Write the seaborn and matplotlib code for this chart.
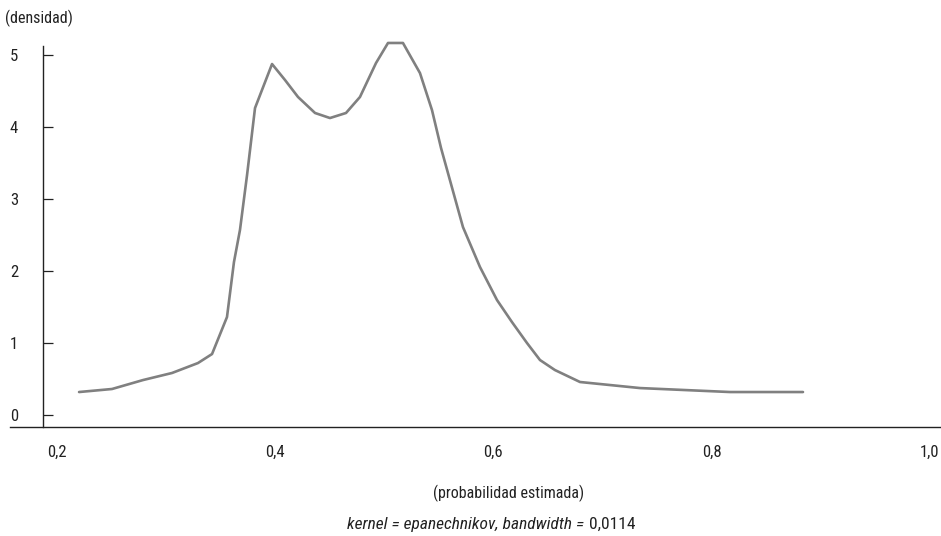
import pandas as pd
import matplotlib
matplotlib.use("Agg")
import matplotlib.pyplot as plt
import seaborn as sns

# estimated probability grid and kernel density
prob = [0.2202, 0.2504, 0.2788, 0.3054, 0.3292, 0.3421, 0.3558, 0.3622, 0.3677,
        0.3742, 0.3815, 0.3971, 0.4090, 0.4209, 0.4365, 0.4502, 0.4649, 0.4777,
        0.4924, 0.5034, 0.5171, 0.5327, 0.5437, 0.5520, 0.5721, 0.5877, 0.6033,
        0.6170, 0.6308, 0.6427, 0.6564, 0.6794, 0.7069, 0.7344, 0.8169, 0.8838]
density = [0.319, 0.361, 0.485, 0.583, 0.721, 0.846, 1.359, 2.122, 2.566,
           3.329, 4.258, 4.868, 4.646, 4.411, 4.189, 4.119, 4.189, 4.411,
           4.882, 5.160, 5.160, 4.743, 4.230, 3.703, 2.607, 2.053, 1.595,
           1.290, 0.999, 0.763, 0.624, 0.458, 0.416, 0.374, 0.319, 0.319]

x_ticks = [0.2, 0.4, 0.6, 0.8, 1.0]
x_tick_labels = ["0,2", "0,4", "0,6", "0,8", "1,0"]
y_ticks = [0, 1, 2, 3, 4, 5]
y_tick_labels = ["0", "1", "2", "3", "4", "5"]

y_title = "(densidad)"
x_title = "(probabilidad estimada)"
note_italic = "kernel = epanechnikov, bandwidth ="
note_value = "0,0114"

df = pd.DataFrame({"prob": prob, "density": density})

sns.set_style("white")
# narrow sans faces first, whichever is installed gets used
plt.rcParams["font.family"] = ["Roboto Condensed", "Liberation Sans Narrow",
                               "Roboto", "DejaVu Sans"]
text_color = "#222222"
fs = 11.5

fig = plt.figure(figsize=(9.41, 5.36), dpi=100)
ax = fig.add_axes([10 / 941, 109 / 536, 931 / 941, 381 / 536])

sns.lineplot(data=df, x="prob", y="density", sort=False, estimator=None,
             color="#808080", linewidth=1.9, ax=ax, clip_on=False)

ax.set_xlim(0.1569, 1.0103)
ax.set_ylim(-0.166, 5.118)

# left axis sits at the data position, bottom axis runs full width
ax.spines["left"].set_position(("data", 0.1872))
ax.spines["right"].set_visible(False)
ax.spines["top"].set_visible(False)
for s in ["left", "bottom"]:
    ax.spines[s].set_color("#222222")
    ax.spines[s].set_linewidth(1.0)

ax.set_xticks(x_ticks)
ax.set_xticklabels(x_tick_labels)
ax.set_yticks(y_ticks)
ax.set_yticklabels(y_tick_labels)
ax.tick_params(axis="x", length=0, pad=13, labelsize=12, labelcolor=text_color)
ax.tick_params(axis="y", direction="in", length=7, width=0.9, color="#222222",
               pad=18, labelsize=12, labelcolor=text_color, left=True)
ax.set_xlabel("")
ax.set_ylabel("")

fig.text(5 / 941, 1 - 18 / 536, y_title, ha="left", va="center",
         fontsize=fs, color=text_color)
fig.text(509 / 941, 1 - 493 / 536, x_title, ha="center", va="center",
         fontsize=fs, color=text_color)
# note: italic words, upright number
fig.text(584 / 941, 1 - 524 / 536, note_italic, ha="right", va="center",
         fontsize=12.5, style="italic", color=text_color)
fig.text(589 / 941, 1 - 524 / 536, note_value, ha="left", va="center",
         fontsize=12.5, color=text_color)

fig.savefig("out.png", dpi=100)
